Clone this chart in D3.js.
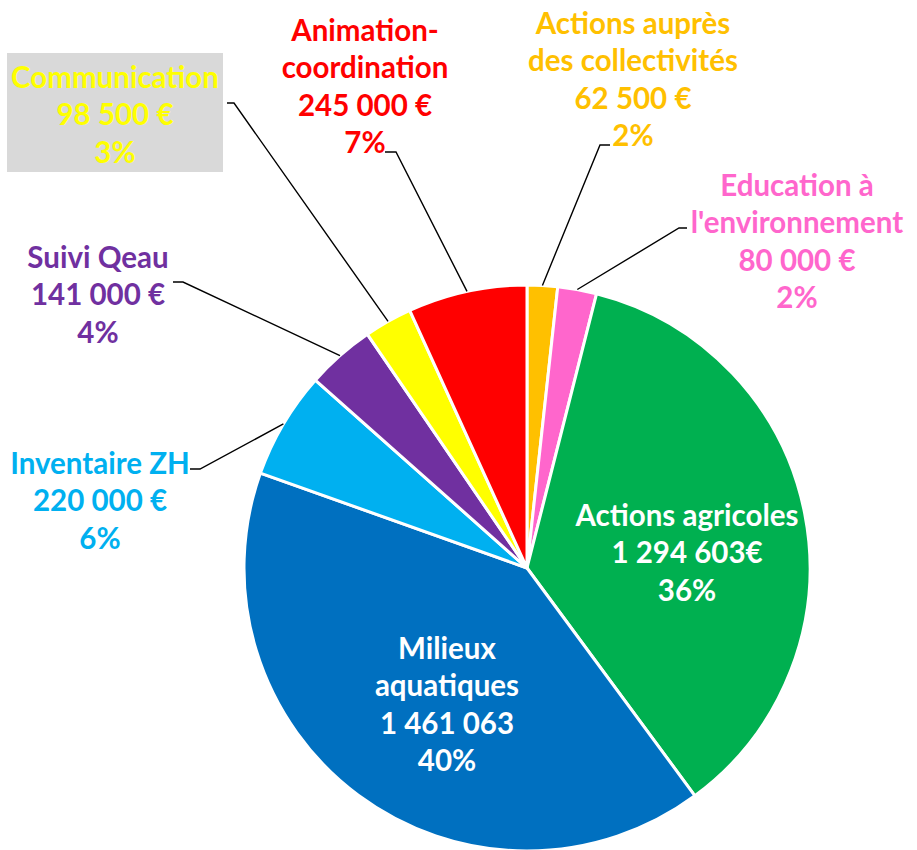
<!DOCTYPE html>
<html><head><meta charset="utf-8">
<script src="https://cdn.jsdelivr.net/npm/d3@7"></script>
<style>html,body{margin:0;padding:0;background:#fff;}svg{display:block;}</style>
</head><body>
<svg id="chart" width="917" height="850"></svg>
<script>
// ---- data ----
const categories = ["Actions auprès des collectivités","Education à l'environnement","Actions agricoles","Milieux aquatiques","Inventaire ZH","Suivi Qeau","Communication","Animation-coordination"];
const values = [62500, 80000, 1294603, 1461063, 220000, 141000, 98500, 245000];
const nameLines = [["Actions auprès","des collectivités"],["Education à","l'environnement"],["Actions agricoles"],["Milieux","aquatiques"],["Inventaire ZH"],["Suivi Qeau"],["Communication"],["Animation-","coordination"]];
const valueLabels = ["62 500 €","80 000 €","1 294 603€","1 461 063","220 000 €","141 000 €","98 500 €","245 000 €"];
const percentLabels = ["2%","2%","36%","40%","6%","4%","3%","7%"];

// ---- styling / layout ----
const sliceColors = ["#FFC000","#FF66CC","#00B050","#0070C0","#00B0F0","#7030A0","#FFFF00","#FF0000"];
const textColors  = ["#FFC000","#FF66CC","#FFFFFF","#FFFFFF","#00B0F0","#7030A0","#FFFF00","#FF0000"];
// label center x, first line center y, leader: [labelEnd, elbow] or null
const labelLayout = [
  {x:633, y:23,  lead:[[610,145],[600,145]]},
  {x:797, y:185, lead:[[687,228],[679,228]]},
  {x:687, y:515, lead:null},
  {x:447, y:648, lead:null},
  {x:100, y:463, lead:[[190,469],[200,469]]},
  {x:98,  y:257, lead:[[173,282],[183,282]]},
  {x:115, y:77,  lead:[[227,103],[234,103]], box:[7,53,216,119]},
  {x:365, y:30,  lead:[[385,152],[396,152]]}
];
const cx = 527, cy = 568, R = 283, lineH = 37.5;

const svg = d3.select("#chart");
const pie = d3.pie().sort(null).value(d => d)(values);
const arc = d3.arc().innerRadius(0).outerRadius(R);

const g = svg.append("g").attr("transform", `translate(${cx},${cy})`);
g.selectAll("path").data(pie).join("path")
  .attr("d", arc)
  .attr("fill", (d,i) => sliceColors[i])
  .attr("stroke", "#fff").attr("stroke-width", 3).attr("stroke-linejoin","round");

// leader lines
pie.forEach((d,i) => {
  const L = labelLayout[i];
  if (!L.lead) return;
  const a = (d.startAngle + d.endAngle) / 2;
  const px = cx + R * Math.sin(a), py = cy - R * Math.cos(a);
  const pts = [L.lead[0], L.lead[1], [px, py]];
  svg.append("path").attr("d", d3.line()(pts))
    .attr("fill","none").attr("stroke","#000").attr("stroke-width",1.4);
});

// labels
labelLayout.forEach((L,i) => {
  if (L.box) svg.append("rect").attr("x",L.box[0]).attr("y",L.box[1]).attr("width",L.box[2]).attr("height",L.box[3]).attr("fill","#D9D9D9");
  const lines = nameLines[i].concat([valueLabels[i], percentLabels[i]]);
  const t = svg.append("text")
    .attr("text-anchor","middle")
    .attr("font-family","Lato, 'Open Sans', sans-serif")
    .attr("font-weight","bold")
    .attr("font-size", 29.5)
    .attr("fill", textColors[i]);
  lines.forEach((s,k) => {
    t.append("tspan").attr("x", L.x).attr("y", L.y + k*lineH).attr("dy","0.36em").text(s);
  });
});
</script>
</body></html>
